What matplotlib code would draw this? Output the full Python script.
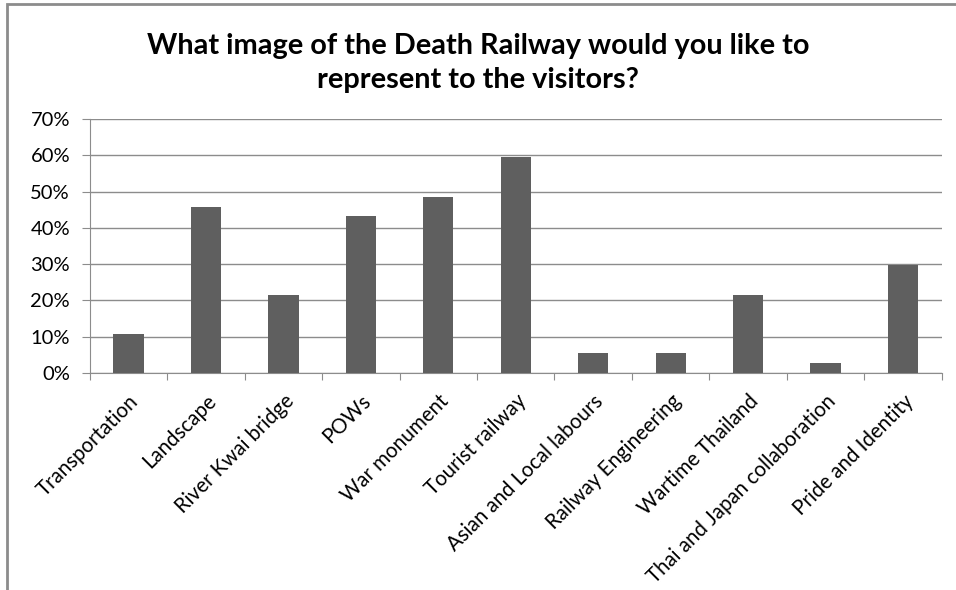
import matplotlib.pyplot as plt
from matplotlib.ticker import PercentFormatter, MultipleLocator
from matplotlib.patches import Rectangle

categories = ["Transportation", "Landscape", "River Kwai bridge", "POWs",
              "War monument", "Tourist railway", "Asian and Local labours",
              "Railway Engineering", "Wartime Thailand",
              "Thai and Japan collaboration", "Pride and Identity"]
shares = [10.8, 45.9, 21.6, 43.2, 48.6, 59.5, 5.4, 5.4, 21.6, 2.7, 29.7]

plt.rcParams['font.family'] = ['Lato', 'DejaVu Sans']

fig = plt.figure(figsize=(9.56, 5.9), dpi=100)
ax = fig.add_axes([0.094, 0.368, 0.891, 0.430])

# outer chart frame (only left and top edges visible)
fig.add_artist(Rectangle((6.5 / 956, -0.1), 1.2, 1.1 - 4.5 / 590,
                         transform=fig.transFigure, fill=False,
                         edgecolor='#8c8c8c', linewidth=2))

x = range(len(categories))
ax.bar(x, shares, width=0.39, color='#5f5f5f', zorder=3)

ax.set_xlim(-0.5, len(categories) - 0.5)
ax.set_ylim(0, 70)
ax.yaxis.set_major_locator(MultipleLocator(10))
ax.yaxis.set_major_formatter(PercentFormatter(decimals=0))
ax.grid(axis='y', color='#8c8c8c', linewidth=1, zorder=0)

ax.set_xticks([i - 0.5 for i in range(len(categories) + 1)], minor=False)
ax.set_xticklabels([])
ax.set_xticks(list(x), minor=True)
ax.set_xticklabels(categories, minor=True, rotation=45, ha='right',
                   rotation_mode='anchor', fontsize=14.8)
ax.tick_params(axis='x', which='minor', length=0, pad=13)
ax.tick_params(axis='x', which='major', length=5, color='#8c8c8c')
ax.tick_params(axis='y', length=5.8, color='#8c8c8c', labelsize=14.5, pad=8.5)

for side in ['top', 'right']:
    ax.spines[side].set_visible(False)
ax.spines['left'].set_color('#8c8c8c')
ax.spines['bottom'].set_color('#8c8c8c')

fig.text(0.5, 0.894, "What image of the Death Railway would you like to\nrepresent to the visitors?",
         ha='center', va='center', fontsize=20.8, fontweight='bold',
         linespacing=1.38)

fig.savefig('out.png', dpi=100)
